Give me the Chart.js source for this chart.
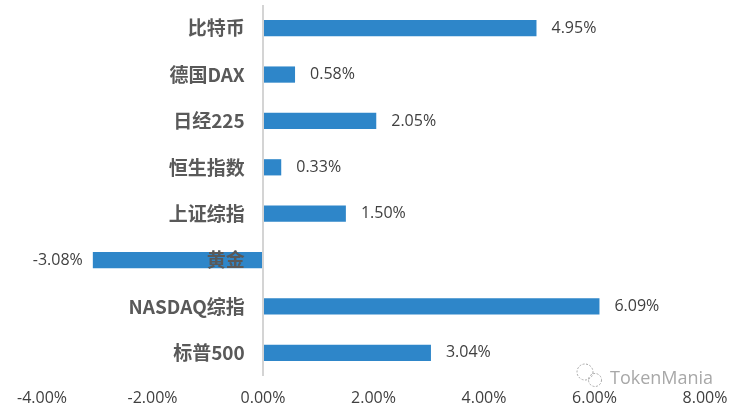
<!DOCTYPE html>
<html>
<head>
<meta charset="utf-8">
<style>
html, body { margin: 0; padding: 0; background: #fff; }
#wrap { position: relative; width: 736px; height: 408px; }
canvas { display: block; }
#watermark { position: absolute; left: 610px; top: 365px; font: 18px "Open Sans", sans-serif; color: #a8a8a8; }
#logo { position: absolute; left: 575px; top: 362px; }
</style>
<script src="https://cdn.jsdelivr.net/npm/chart.js@4"></script>
</head>
<body>
<div id="wrap">
<canvas id="myChart" width="736" height="408"></canvas>
<svg id="logo" width="32" height="28" fill="none" stroke="#a8a8a8" stroke-width="1" stroke-dasharray="2 1.5">
  <circle cx="10" cy="10" r="8"/>
  <circle cx="20" cy="18" r="6.5"/>
</svg>
<div id="watermark">TokenMania</div>
</div>
<script>
const categories = ['比特币', '德国DAX', '日经225', '恒生指数', '上证综指', '黄金', 'NASDAQ综指', '标普500'];
const returns = [4.95, 0.58, 2.05, 0.33, 1.50, -3.08, 6.09, 3.04];
const xTicks = [-4, -2, 0, 2, 4, 6, 8];

// 数値ラベルをバーの先に描く
const valueLabels = {
    id: 'valueLabels',
    afterDatasetsDraw(chart) {
        const ctx = chart.ctx;
        const meta = chart.getDatasetMeta(0);
        ctx.save();
        ctx.font = '16px "Open Sans", sans-serif';
        ctx.fillStyle = '#404040';
        ctx.textBaseline = 'middle';
        meta.data.forEach((bar, i) => {
            const text = returns[i].toFixed(2) + '%';
            ctx.textAlign = returns[i] < 0 ? 'right' : 'left';
            ctx.fillText(text, bar.x + (returns[i] < 0 ? -10 : 15), bar.y);
        });
        ctx.restore();
    }
};

new Chart(document.getElementById('myChart').getContext('2d'), {
    type: 'bar',
    data: {
        labels: categories,
        datasets: [{
            data: returns,
            backgroundColor: '#2e86c9',
            categoryPercentage: 1,
            barPercentage: 0.35
        }]
    },
    options: {
        indexAxis: 'y',
        responsive: false,
        animation: false,
        layout: { padding: { left: 42, right: 31, top: 5, bottom: 0 } },
        plugins: { legend: { display: false }, tooltip: { enabled: false } },
        scales: {
            x: {
                min: -4,
                max: 8,
                afterBuildTicks(axis) { axis.ticks = xTicks.map(v => ({ value: v })); },
                afterFit(axis) { axis.height = 32; axis.paddingLeft = 0; axis.paddingRight = 0; },
                // 0の位置だけ縦線を引く
                grid: {
                    z: 1,
                    drawTicks: false,
                    lineWidth: 2,
                    color: c => (c.tick && c.tick.value === 0 ? '#d4d4d4' : 'transparent')
                },
                border: { display: false },
                ticks: {
                    color: '#404040',
                    font: { family: '"Open Sans", sans-serif', size: 16 },
                    maxRotation: 0,
                    padding: 13,
                    callback: v => v.toFixed(2) + '%'
                }
            },
            y: {
                // ラベルを0の線より少し左に置く
                position: { x: -0.33 },
                afterFit(axis) { axis.width = 0; axis.paddingTop = 0; axis.paddingBottom = 0; },
                grid: { display: false },
                border: { display: false },
                ticks: {
                    z: 1,
                    color: '#595959',
                    font: { family: '"Noto Sans CJK SC", sans-serif', size: 19, weight: 'bold' }
                }
            }
        }
    },
    plugins: [valueLabels]
});
</script>
</body>
</html>
